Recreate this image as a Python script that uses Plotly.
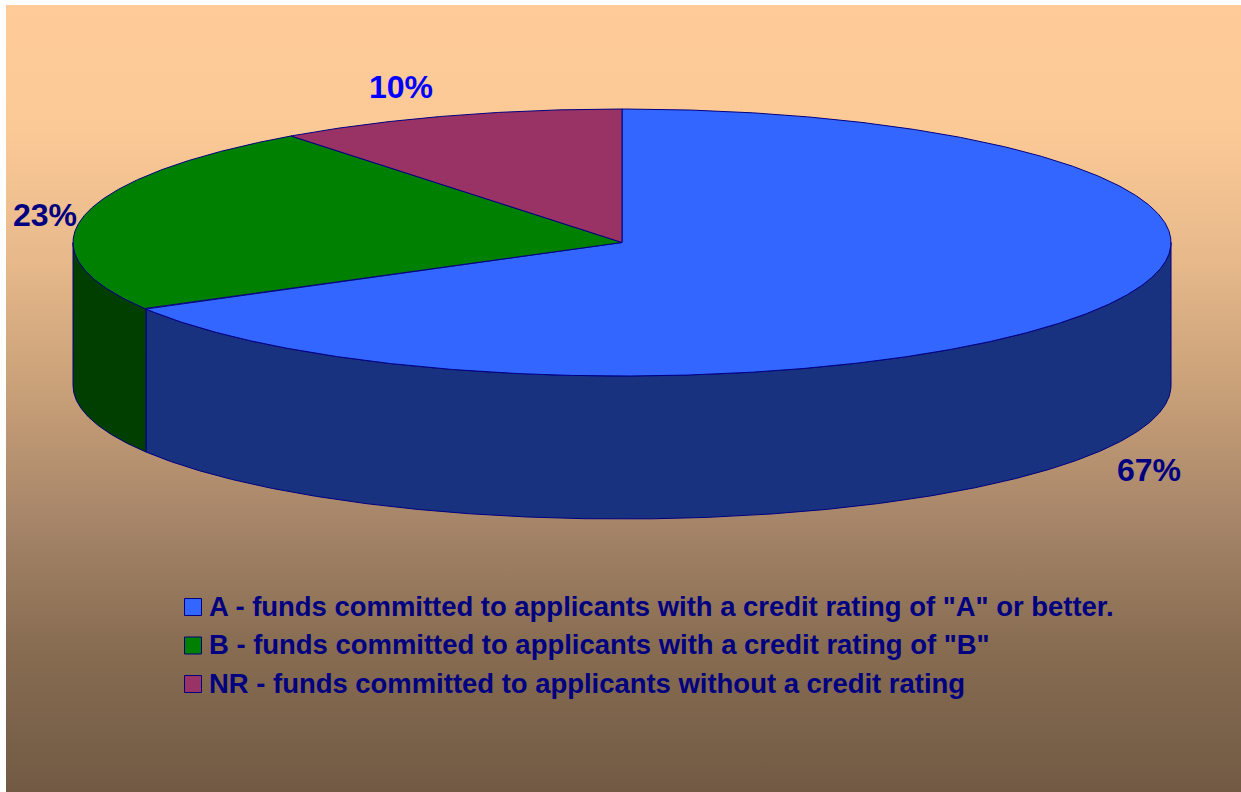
import numpy as np
import plotly.graph_objects as go

categories = ["A", "B", "NR"]
values = [66.7, 23.0, 10.3]
pct_labels = ["67%", "23%", "10%"]
legend_labels = [
    'A - funds committed to applicants with a credit rating of "A" or better.',
    'B - funds committed to applicants with a credit rating of "B"',
    "NR - funds committed to applicants without a credit rating",
]
top_colors = ["#3366FF", "#008000", "#993366"]
side_colors = ["#18327F", "#003F00", "#4B1932"]
label_colors = ["#000080", "#000080", "#0000FF"]
label_pos = [(1149, 472.5), (45, 218), (401, 90)]
legend_y = [609, 647.5, 686.5]
swatch_y = [607, 645.5, 684]

# background gradient: pixel row and colour
bg_rows = [5, 130, 265, 400, 525, 650, 792]
bg_colors = ["#FFCC99", "#FBC996", "#E6B88A", "#C69E77", "#A58468", "#876C51", "#715A44"]

W, H = 1241, 792
CX, CY, RX, RY, DEPTH = 622, 242.5, 549, 133.5, 143
EDGE = "#000080"
FONT = "Liberation Sans, Arial, sans-serif"


def ell(theta, dy=0):
    t = np.radians(theta)
    return CX + RX * np.sin(t), CY - RY * np.cos(t) + dy


def arc(a, b):
    return np.linspace(a, b, max(int(abs(b - a) * 4), 2))


fig = go.Figure()

span = bg_rows[-1] - bg_rows[0]
scale = sorted([(bg_rows[-1] - r) / span, c] for r, c in zip(bg_rows, bg_colors))
fig.add_trace(go.Scatter(
    x=[6, W, W, 6, 6], y=[5, 5, H, H, 5], mode="lines", fill="toself",
    line=dict(width=0), showlegend=False, hoverinfo="skip",
    fillgradient=dict(type="vertical", colorscale=scale),
))

edges = np.concatenate([[0], np.cumsum(values)]) / sum(values) * 360

# walls: only the front half of the cylinder (90..270 degrees) shows
for i in range(len(values)):
    a, b = max(edges[i], 90), min(edges[i + 1], 270)
    if a >= b:
        continue
    th = arc(a, b)
    x1, y1 = ell(th)
    x2, y2 = ell(th[::-1], DEPTH)
    fig.add_trace(go.Scatter(
        x=np.r_[x1, x2, x1[0]], y=np.r_[y1, y2, y1[0]], mode="lines",
        fill="toself", fillcolor=side_colors[i],
        line=dict(color=EDGE, width=1), showlegend=False, hoverinfo="skip",
    ))

# top face slices
for i in range(len(values)):
    th = arc(edges[i], edges[i + 1])
    x1, y1 = ell(th)
    fig.add_trace(go.Scatter(
        x=np.r_[CX, x1, CX], y=np.r_[CY, y1, CY], mode="lines",
        fill="toself", fillcolor=top_colors[i],
        line=dict(color=EDGE, width=1), name=categories[i],
        showlegend=False, hoverinfo="skip",
    ))

# percentage labels
for (px, py), t, c in zip(label_pos, pct_labels, label_colors):
    fig.add_trace(go.Scatter(
        x=[px], y=[py], mode="text", text=[f"<b>{t}</b>"],
        textposition="middle center",
        textfont=dict(family=FONT, size=32, color=c),
        showlegend=False, hoverinfo="skip",
    ))

# legend rows
for t, c, ly, sy in zip(legend_labels, top_colors, legend_y, swatch_y):
    fig.add_trace(go.Scatter(
        x=[193], y=[sy], mode="markers",
        marker=dict(symbol="square", size=17, color=c,
                    line=dict(color=EDGE, width=1)),
        showlegend=False, hoverinfo="skip",
    ))
    fig.add_trace(go.Scatter(
        x=[209], y=[ly], mode="text", text=[f"<b>{t}</b>"],
        textposition="middle right",
        textfont=dict(family=FONT, size=27.45, color=EDGE),
        showlegend=False, hoverinfo="skip",
    ))

fig.update_layout(
    width=W, height=H, margin=dict(l=0, r=0, t=0, b=0),
    paper_bgcolor="white", plot_bgcolor="rgba(0,0,0,0)", showlegend=False,
    xaxis=dict(range=[0, W], visible=False, fixedrange=True),
    yaxis=dict(range=[H, 0], visible=False, fixedrange=True),
)
fig.write_html("out.html", config={"displayModeBar": False},
               post_script="document.body.style.margin='0';")
